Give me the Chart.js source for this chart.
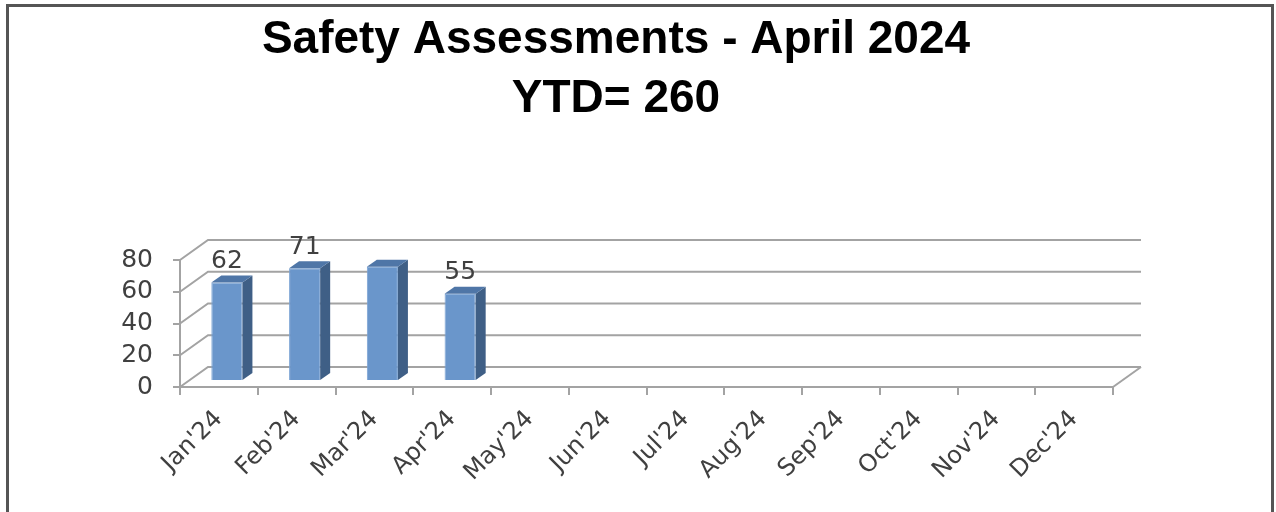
<!DOCTYPE html>
<html>
<head>
<meta charset="utf-8">
<script src="https://cdn.jsdelivr.net/npm/chart.js@4.4.1/dist/chart.umd.min.js"></script>
<style>
  body { margin: 0; background: #fff; }
  #wrap { width: 1276px; height: 512px; }
</style>
</head>
<body>
<div id="wrap"><canvas id="barChart3d" width="1276" height="512"></canvas></div>
<script>
var months = ["Jan'24", "Feb'24", "Mar'24", "Apr'24", "May'24", "Jun'24",
              "Jul'24", "Aug'24", "Sep'24", "Oct'24", "Nov'24", "Dec'24"];
var assessments = [62, 71, 72, 55, null, null, null, null, null, null, null, null];
var labelShown = [true, true, false, true];
var yTicks = [0, 20, 40, 60, 80];
var titleLines = ['Safety Assessments - April 2024', 'YTD= 260'];

var gridColor = '#a3a3a3';
var textColor = '#404040';
var labelFont = '25px "DejaVu Sans"';

// depth of the box and of the bars (px)
var depthX = 28, depthY = -20;
var barShiftX = 8, barShiftY = -6;
var barDepthX = 10, barDepthY = -7;

var box3d = {
    id: 'box3d',
    beforeDraw: function(chart) {
        var ctx = chart.ctx;
        ctx.save();
        ctx.strokeStyle = '#555';
        ctx.lineWidth = 3;
        ctx.strokeRect(7.5, 5.5, 1265, 520);
        ctx.restore();
    },
    beforeDatasetsDraw: function(chart) {
        var ctx = chart.ctx;
        var area = chart.chartArea;
        var y = chart.scales.y;
        ctx.save();
        ctx.strokeStyle = gridColor;
        ctx.lineWidth = 2;
        yTicks.forEach(function(v) {
            var py = y.getPixelForValue(v);
            ctx.beginPath();
            ctx.moveTo(area.left, py);
            ctx.lineTo(area.left + depthX, py + depthY);
            ctx.lineTo(area.right + depthX, py + depthY);
            ctx.stroke();
        });
        // floor right edge
        var p0 = y.getPixelForValue(0);
        ctx.beginPath();
        ctx.moveTo(area.right, p0);
        ctx.lineTo(area.right + depthX, p0 + depthY);
        ctx.stroke();
        ctx.restore();

        ctx.save();
        ctx.translate(barShiftX, barShiftY);
    },
    afterDatasetsDraw: function(chart) {
        var ctx = chart.ctx;
        ctx.restore();
        var meta = chart.getDatasetMeta(0);
        ctx.save();
        meta.data.forEach(function(bar, i) {
            if (assessments[i] === null) return;
            var p = bar.getProps(['x', 'y', 'base', 'width'], true);
            var x1 = p.x - p.width / 2 + barShiftX;
            var x2 = p.x + p.width / 2 + barShiftX;
            var top = p.y + barShiftY;
            var base = p.base + barShiftY;
            // side
            ctx.fillStyle = '#3f5f86';
            ctx.beginPath();
            ctx.moveTo(x2, top);
            ctx.lineTo(x2 + barDepthX, top + barDepthY);
            ctx.lineTo(x2 + barDepthX, base + barDepthY);
            ctx.lineTo(x2, base);
            ctx.closePath();
            ctx.fill();
            // top
            ctx.fillStyle = '#4f76a7';
            ctx.beginPath();
            ctx.moveTo(x1, top);
            ctx.lineTo(x1 + barDepthX, top + barDepthY);
            ctx.lineTo(x2 + barDepthX, top + barDepthY);
            ctx.lineTo(x2, top);
            ctx.closePath();
            ctx.fill();
            // value label
            if (labelShown[i]) {
                ctx.fillStyle = textColor;
                ctx.font = labelFont;
                ctx.textAlign = 'center';
                ctx.textBaseline = 'middle';
                ctx.fillText(String(assessments[i]), (x1 + x2) / 2, top - 21);
            }
        });
        ctx.restore();
    }
};

var ctx = document.getElementById('barChart3d').getContext('2d');
new Chart(ctx, {
    type: 'bar',
    data: {
        labels: months,
        datasets: [{
            data: assessments,
            backgroundColor: '#6a96cb',
            borderColor: '#7aa3d4',
            borderWidth: 1,
            barPercentage: 0.4,
            categoryPercentage: 1
        }]
    },
    options: {
        responsive: false,
        animation: false,
        layout: { padding: { left: 0, right: 44, top: 0, bottom: 0 } },
        plugins: {
            legend: { display: false },
            tooltip: { enabled: false },
            title: {
                display: true,
                text: titleLines,
                color: '#000',
                font: { family: '"Liberation Sans"', size: 46, weight: 'bold', lineHeight: '59px' },
                padding: { top: 11, bottom: 131 }
            }
        },
        scales: {
            x: {
                offset: true,
                grid: { display: true, drawOnChartArea: false, drawTicks: true, tickLength: 8, color: gridColor, lineWidth: 2, offset: true },
                border: { display: true, color: gridColor, width: 2 },
                ticks: {
                    color: textColor,
                    font: { family: '"DejaVu Sans"', size: 24 },
                    minRotation: 45,
                    maxRotation: 45,
                    padding: 10,
                    autoSkip: false
                },
                afterFit: function(axis) { axis.height = 125; }
            },
            y: {
                min: 0,
                max: 80,
                afterBuildTicks: function(axis) {
                    axis.ticks = yTicks.map(function(v) { return { value: v }; });
                },
                grid: { display: true, drawOnChartArea: false, drawTicks: true, tickLength: 7, color: gridColor, lineWidth: 2 },
                border: { display: true, color: gridColor, width: 2 },
                ticks: {
                    color: textColor,
                    font: { family: '"DejaVu Sans"', size: 25 },
                    padding: 20,
                    autoSkip: false
                },
                afterFit: function(axis) { axis.width = 180; }
            },
            spacer: {
                position: 'right',
                display: true,
                grid: { display: false },
                border: { display: false },
                ticks: { display: false },
                afterFit: function(axis) { axis.width = 119; }
            }
        }
    },
    plugins: [box3d]
});
</script>
</body>
</html>
